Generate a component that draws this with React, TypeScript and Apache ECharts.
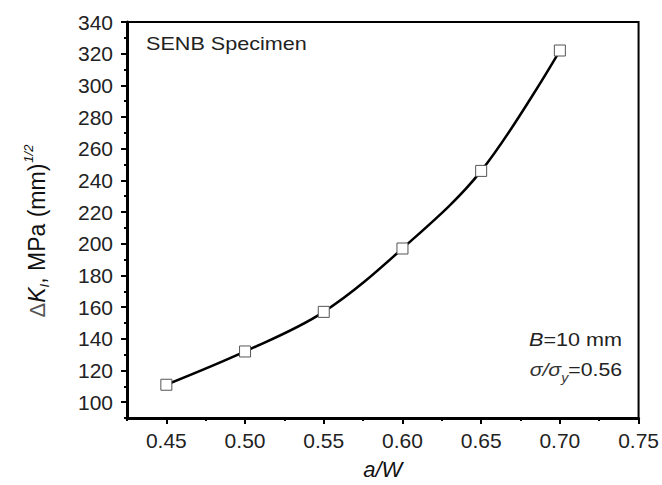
import React, { useEffect, useRef } from "react";
import * as echarts from "echarts";

const aW = [0.45, 0.5, 0.55, 0.6, 0.65, 0.7];
const deltaK = [111, 132, 157, 197, 246, 322];

const xMajorTicks = [0.45, 0.5, 0.55, 0.6, 0.65, 0.7, 0.75];
const xMinorTicks = [0.425, 0.475, 0.525, 0.575, 0.625, 0.675, 0.725];
const yMajorTicks = [100, 120, 140, 160, 180, 200, 220, 240, 260, 280, 300, 320, 340];
const yMinorTicks = [90, 110, 130, 150, 170, 190, 210, 230, 250, 270, 290, 310, 330];

const FONT = "'Liberation Sans', Arial, sans-serif";

export default function App() {
  const ref = useRef<HTMLDivElement>(null);
  useEffect(() => {
    if (!ref.current) return;
    const chart = echarts.init(ref.current, undefined, { renderer: "svg" });
    const labelStyle = { color: "#222", fontSize: 21, fontFamily: FONT };
    const option: any = {
      animation: false,
      backgroundColor: "#fff",
      grid: {
        left: 127,
        top: 22,
        right: 22,
        bottom: 65,
        show: true,
        borderColor: "#000",
        borderWidth: 2,
      },
      xAxis: [
        {
          type: "value",
          min: 0.425,
          max: 0.75,
          position: "bottom",
          name: "a/W",
          nameLocation: "middle",
          nameGap: 40,
          nameTextStyle: { fontFamily: FONT, fontSize: 22, fontStyle: "italic", color: "#111" },
          axisLine: { show: true, lineStyle: { color: "#000", width: 3 } },
          axisTick: { show: true, length: 6, lineStyle: { color: "#000", width: 2 }, customValues: xMajorTicks },
          axisLabel: { ...labelStyle, margin: 12, customValues: xMajorTicks, formatter: (v: number) => v.toFixed(2) },
          splitLine: { show: false },
        },
        {
          type: "value",
          min: 0.425,
          max: 0.75,
          position: "bottom",
          axisLine: { show: false },
          axisTick: { show: true, length: 3, lineStyle: { color: "#000", width: 2 }, customValues: xMinorTicks },
          axisLabel: { show: false },
          splitLine: { show: false },
        },
      ],
      yAxis: [
        {
          type: "value",
          min: 90,
          max: 340,
          position: "left",
          name: "{d|Δ}{k|K}{s|I}{n|, MPa (mm)}{p|1/2}",
          nameLocation: "middle",
          nameGap: 74,
          nameTextStyle: {
            fontFamily: FONT,
            color: "#111",
            padding: [0, 22, 0, 0],
            rich: {
              d: { fontFamily: FONT, fontSize: 22, color: "#555", lineHeight: 32, verticalAlign: "middle" },
              k: { fontFamily: FONT, fontSize: 23, fontStyle: "italic", color: "#111", lineHeight: 32, verticalAlign: "middle" },
              s: { fontFamily: FONT, fontSize: 13, fontStyle: "italic", color: "#111", lineHeight: 32, verticalAlign: "bottom", padding: [0, 0, 2, 0] },
              n: { fontFamily: FONT, fontSize: 23, color: "#111", lineHeight: 32, verticalAlign: "middle" },
              p: { fontFamily: FONT, fontSize: 13, fontStyle: "italic", color: "#111", lineHeight: 32, verticalAlign: "top", padding: [1, 0, 0, 1] },
            },
          },
          axisLine: { show: true, lineStyle: { color: "#000", width: 3 } },
          axisTick: { show: true, length: 6, lineStyle: { color: "#000", width: 2 }, customValues: yMajorTicks },
          axisLabel: { ...labelStyle, margin: 14, customValues: yMajorTicks },
          splitLine: { show: false },
        },
        {
          type: "value",
          min: 90,
          max: 340,
          position: "left",
          axisLine: { show: false },
          axisTick: { show: true, length: 3, lineStyle: { color: "#000", width: 2 }, customValues: yMinorTicks },
          axisLabel: { show: false },
          splitLine: { show: false },
        },
      ],
      series: [
        {
          type: "line",
          xAxisIndex: 0,
          yAxisIndex: 0,
          data: aW.map((x, i) => [x, deltaK[i]]),
          smooth: 0.35,
          symbol: "rect",
          symbolSize: 11,
          showAllSymbol: true,
          lineStyle: { color: "#000", width: 2.5 },
          itemStyle: { color: "#fff", borderColor: "#555", borderWidth: 1 },
          z: 3,
        },
      ],
      graphic: [
        {
          type: "text",
          x: 146,
          y: 35,
          scaleX: 1.2,
          style: { text: "SENB Specimen", fontFamily: FONT, fontSize: 18, fill: "#222" },
        },
        {
          type: "text",
          x: 622,
          y: 331,
          scaleX: 1.2,
          style: {
            text: "{i|B}{n|=10 mm}",
            align: "right",
            rich: {
              i: { fontFamily: FONT, fontSize: 18, fontStyle: "italic", fill: "#222" },
              n: { fontFamily: FONT, fontSize: 18, fill: "#222" },
            },
          },
        },
        {
          type: "text",
          x: 622,
          y: 356,
          scaleX: 1.18,
          style: {
            text: "{i|σ/σ}{s|y}{n|=0.56}",
            align: "right",
            rich: {
              i: { fontFamily: FONT, fontSize: 18, fontStyle: "italic", fill: "#333", lineHeight: 28, verticalAlign: "middle" },
              s: { fontFamily: FONT, fontSize: 12, fontStyle: "italic", fill: "#333", lineHeight: 28, verticalAlign: "bottom" },
              n: { fontFamily: FONT, fontSize: 18, fill: "#222", lineHeight: 28, verticalAlign: "middle" },
            },
          },
        },
      ],
    };
    chart.setOption(option);
    return () => chart.dispose();
  }, []);
  return <div ref={ref} style={{ width: 662, height: 485, position: "absolute", left: 0, top: 0 }} />;
}
